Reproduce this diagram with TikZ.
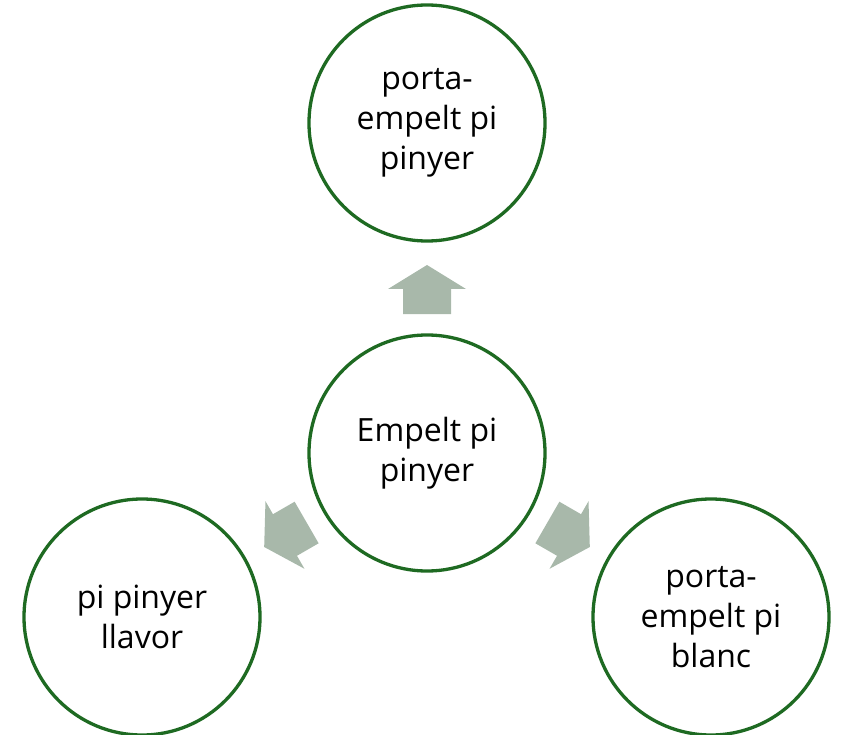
\documentclass[tikz,border=0pt]{standalone}
\usepackage{fontspec}
\setmainfont{Open Sans}
\begin{document}
\begin{tikzpicture}[x=1pt,y=-1pt,
  stage/.style={circle, draw=ringgreen, line width=3.3pt, fill=white,
    minimum size=236pt, inner sep=0pt, align=center,
    font=\fontsize{32}{40}\selectfont},
  pics/blockarrow/.style={code={
    \fill[arrowgray] (0pt,24.5pt) -- (39pt,0.5pt) -- (24pt,0.5pt) -- (24pt,-24.5pt)
      -- (-24pt,-24.5pt) -- (-24pt,0.5pt) -- (-39pt,0.5pt) -- cycle;}}]
\definecolor{ringgreen}{HTML}{1E6A22}
\definecolor{arrowgray}{HTML}{A8B8AA}
\useasboundingbox (0,0) rectangle (843,735);
% central stage and its three outcomes
\node[stage] (hub) at (427,453) {Empelt pi\\pinyer};
\node[stage] (top) at (427,123) {porta-\\empelt pi\\pinyer};
\node[stage] (left) at (142,617) {pi pinyer\\llavor};
\node[stage] (right) at (711,617) {porta-\\empelt pi\\blanc};
% block arrows radiating out of the hub
\pic[rotate=0] at ([shift={(90:163.5pt)}]hub.center) {blockarrow};
\pic[rotate=120] at ([shift={(210:163.5pt)}]hub.center) {blockarrow};
\pic[rotate=-120] at ([shift={(-30:163.5pt)}]hub.center) {blockarrow};
\end{tikzpicture}
\end{document}
